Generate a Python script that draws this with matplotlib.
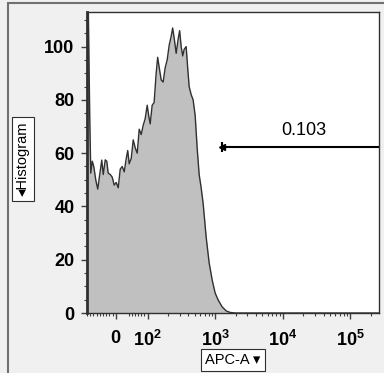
import numpy as np
import matplotlib
matplotlib.use('Agg')
from matplotlib import pyplot as plt
from matplotlib.patches import Rectangle
matplotlib.rcParams.update({'font.family': ['Liberation Sans', 'DejaVu Sans'],
                            'mathtext.default': 'regular'})

# histogram of APC-A (bin position, count)
apc = [-87.6, -81.4, -78.2, -73.5, -68.8, -62.6, -56.3, -50.1, -43.8, -39.1, -32.9, -28.2,
       -23.5, -17.2, -11.0, -4.7, 1.6, 7.8, 14.1, 20.3, 26.6, 32.9, 37.5, 42.2, 48.5, 54.8,
       61.0, 67.3, 73.5, 79.8, 86.1, 92.3, 98.8, 104, 109.4, 117, 125, 134, 141, 149, 159,
       170, 182, 195, 209, 224, 235, 248, 265, 284, 298, 314, 331, 348, 372, 392, 412, 441,
       472, 506, 541, 579, 620, 664, 735, 814, 902, 998, 1105, 1267, 1452, 1663, 2000, 262144]
counts = [130, 73.5, 52.5, 57, 55, 50, 46.5, 52, 57.4, 52, 57.5, 57, 52.5, 52, 51, 48, 49, 47,
          54, 55, 53, 58, 61, 56, 58, 65, 62, 60, 69, 67, 70.5, 73, 78, 74, 71, 78, 79, 90, 96,
          92, 87.5, 86.7, 92, 95, 100.6, 104, 107, 103, 97.5, 103, 106, 100, 96.5, 99, 100, 92,
          85, 82, 80, 74, 62, 52, 47, 41, 28.5, 18.8, 12.4, 7.5, 4.9, 2.3, 0.8, 0.2, 0, 0]

gate_x = [1270, 262144]
gate_y = 62.3
gate_label = '0.103'

x_major = [0, 1e2, 1e3, 1e4, 1e5]
x_major_labels = ['0', '10$^2$', '10$^3$', '10$^4$', '10$^5$']
x_minor = [-90, -80, -70, -60, -50, -40, -30, -20, -10, 40, 50, 60, 70, 80, 90,
           200, 300, 400, 500, 600, 700, 800, 900,
           2000, 3000, 4000, 5000, 6000, 7000, 8000, 9000,
           20000, 30000, 40000, 50000, 60000, 70000, 80000, 90000, 200000]

L = 92.0  # linear region of the biex axis


def biex(x):
    x = np.asarray(x, dtype=float)
    a = np.abs(x)
    return np.where(a <= L, x / L, np.sign(x) * (1 + np.log(np.maximum(a, L) / L)))


def biex_inv(p):
    p = np.asarray(p, dtype=float)
    a = np.abs(p)
    return np.where(a <= 1, p * L, np.sign(p) * L * np.exp(np.maximum(a, 1) - 1))


W, H = 384, 373
fig = plt.figure(figsize=(W / 100, H / 100), dpi=100, facecolor='#f0f0f0')
ax = fig.add_axes([87 / W, 1 - 313 / H, 292 / W, 301 / H])
ax.set_facecolor('white')
ax.set_xscale('function', functions=(biex, biex_inv))

ax.fill_between(apc, counts, 0, color='#c0c0c0', lw=0)
ax.plot(apc, counts, color='#303030', lw=1)

ax.plot(gate_x, [gate_y, gate_y], color='black', lw=1.5)
ax.plot(gate_x[0], gate_y, marker='|', color='black', ms=7, mew=1.5)
ax.plot(gate_x[0], gate_y, marker='<', color='black', ms=4)
ax.text(20600, gate_y + 3, gate_label, ha='center', va='bottom', fontsize=13)

ax.set_xlim(-89, 264000)
ax.set_ylim(0, 113)
ax.set_xticks(x_major, x_major_labels)
ax.set_xticks(x_minor, minor=True)
ax.set_yticks([0, 20, 40, 60, 80, 100])
ax.set_yticks(np.arange(5, 115, 5), minor=True)
ax.tick_params(which='major', length=4, width=1, labelsize=13, color='#404040')
ax.tick_params(which='minor', length=2.5, width=0.8, color='#404040')
ax.tick_params(axis='x', pad=8)
ax.tick_params(axis='y', pad=5)
for lab in ax.get_xticklabels() + ax.get_yticklabels():
    lab.set_fontweight('bold')
for s in ax.spines.values():
    s.set_color('#303030')
    s.set_linewidth(1)
ax.spines['left'].set_linewidth(2)

fig.text(233 / W, 1 - 360 / H, 'APC-A \u25be', ha='center', va='center', fontsize=10.5,
         bbox=dict(boxstyle='square,pad=0.3', fc='white', ec='#303030', lw=0.8))
fig.text(23 / W, 1 - 159 / H, '\u25c2Histogram', ha='center', va='center', fontsize=10.5,
         rotation=90, bbox=dict(boxstyle='square,pad=0.3', fc='white', ec='#303030', lw=0.8))

# panel frame
fig.add_artist(Rectangle((8 / W, -0.1), 1.2, 1 - 3 / H + 0.1, transform=fig.transFigure,
                         fill=False, ec='#707070', lw=1.5))

fig.savefig('out.png', dpi=100, facecolor=fig.get_facecolor())
